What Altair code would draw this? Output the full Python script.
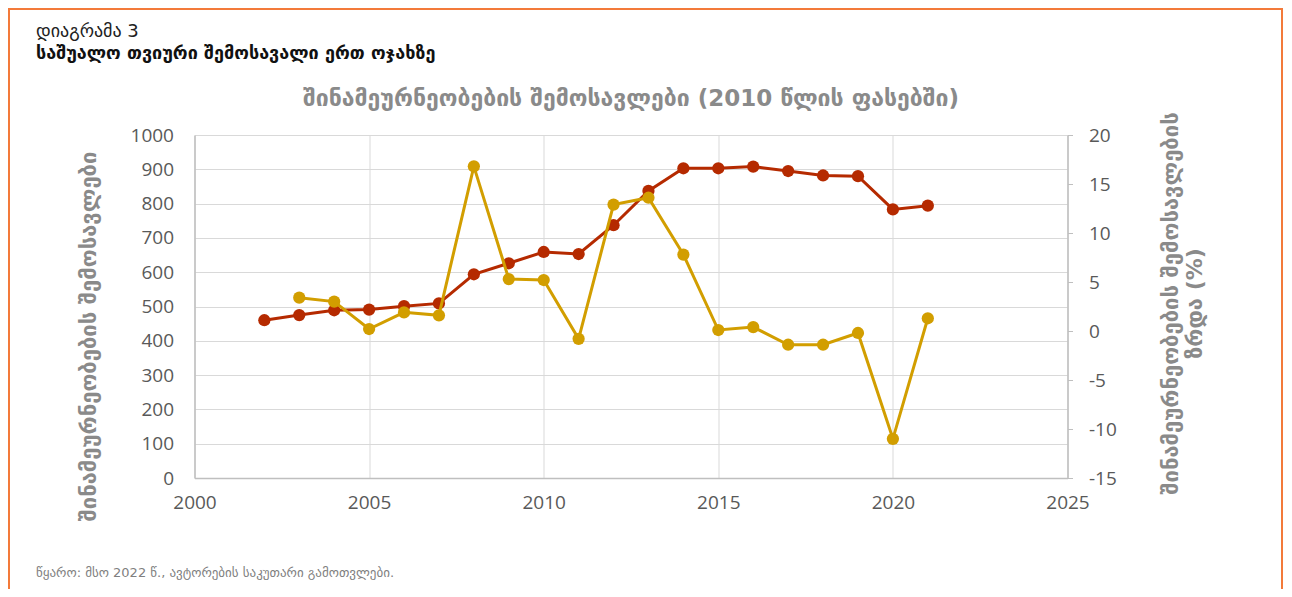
import altair as alt
import pandas as pd

# ---------------- data ----------------
income_years = list(range(2002, 2022))
income = [460, 475, 489, 491, 501, 509, 594, 626, 659, 653,
          737, 837, 903, 903, 908, 895, 882, 880, 783, 794]

growth_years = list(range(2003, 2022))
growth = [3.4, 3.0, 0.2, 1.9, 1.6, 16.8, 5.3, 5.2, -0.8, 12.9,
          13.6, 7.8, 0.1, 0.4, -1.4, -1.4, -0.2, -11.0, 1.3]

x_ticks = [2000, 2005, 2010, 2015, 2020, 2025]
left_ticks = list(range(0, 1001, 100))
right_ticks = list(range(-15, 21, 5))

header_1 = "დიაგრამა 3"
header_2 = "საშუალო თვიური შემოსავალი ერთ ოჯახზე"
chart_title = "შინამეურნეობების შემოსავლები (2010 წლის ფასებში)"
left_title = "შინამეურნეობების შემოსავლები"
right_title = ["შინამეურნეობების შემოსავლების", "ზრდა (%)"]
source_note = "წყარო: მსო 2022 წ., ავტორების საკუთარი გამოთვლები."

# ---------------- styles ----------------
RED = "#B52A00"
GOLD = "#D29E00"
ORANGE = "#F37A3A"
GRID = "#D9D9D9"
DOMAIN = "#BFBFBF"
LABEL = "#595959"
TITLE_GRAY = "#8A8A8A"
GEO = "DejaVu Sans"
NUM = "Open Sans"

W, H = 873, 343
PAD = {"left": 186.5, "top": 127, "right": 216.5, "bottom": 111}

df_inc = pd.DataFrame({"year": income_years, "income": income})
df_gr = pd.DataFrame({"year": growth_years, "growth": growth})

x_enc = alt.X(
    "year:Q",
    scale=alt.Scale(domain=[2000, 2025], nice=False, zero=False),
    axis=alt.Axis(
        values=x_ticks, format="d", title=None, grid=True, gridColor=GRID,
        ticks=False, tickSize=0, labelPadding=15, labelFlush=False,
        labelOverlap=False, domainColor=DOMAIN, domainWidth=1.5,
        labelFont=NUM, labelFontSize=19, labelColor=LABEL,
    ),
)

y_left = alt.Y(
    "income:Q",
    scale=alt.Scale(domain=[0, 1000], nice=False),
    axis=alt.Axis(
        orient="left", values=left_ticks, format="d", grid=True, gridColor=GRID,
        ticks=False, tickSize=0, labelPadding=21, labelFlush=False,
        domainColor=DOMAIN, domainWidth=1.5,
        labelFont=NUM, labelFontSize=19, labelColor=LABEL,
        title=left_title, titleAngle=-90, titleX=-106.5, titleY=201,
        titleAlign="center", titleBaseline="middle",
        titleFont=GEO, titleFontSize=22, titleFontWeight="bold",
        titleColor=TITLE_GRAY,
    ),
)

y_right = alt.Y(
    "growth:Q",
    scale=alt.Scale(domain=[-15, 20], nice=False, zero=False),
    axis=alt.Axis(
        orient="right", values=right_ticks, grid=False,
        labelExpr="'' + datum.value",
        ticks=True, tickSize=5, tickColor=DOMAIN, labelPadding=16,
        labelFlush=False, domainColor=DOMAIN, domainWidth=1.5,
        labelFont=NUM, labelFontSize=19, labelColor=LABEL,
        title=right_title, titleAngle=-90, titleX=92.5, titleY=168,
        titleAlign="center", titleBaseline="top", titleLineHeight=24,
        titleFont=GEO, titleFontSize=22, titleFontWeight="bold",
        titleColor=TITLE_GRAY,
    ),
)

red_base = alt.Chart(df_inc).encode(x=x_enc, y=y_left)
red = alt.layer(
    red_base.mark_line(color=RED, strokeWidth=3),
    red_base.mark_point(filled=True, size=150, color=RED, opacity=1),
)

gold_base = alt.Chart(df_gr).encode(x=x_enc, y=y_right)
gold = alt.layer(
    gold_base.mark_line(color=GOLD, strokeWidth=3),
    gold_base.mark_point(filled=True, size=150, color=GOLD, opacity=1),
)


def text_layer(txt, x, y, size, weight="normal", color="#222222", align="left", font=GEO):
    d = pd.DataFrame({"t": [txt]})
    return alt.Chart(d).mark_text(
        align=align, baseline="alphabetic", font=font, fontSize=size,
        fontWeight=weight, color=color,
    ).encode(text="t:N", x=alt.value(x), y=alt.value(y))


ox, oy = 194.5, 135  # page position of plot origin
t1 = text_layer(header_1, 36 - ox, 37 - oy, 18)
t2 = text_layer(header_2, 36 - ox, 59 - oy, 18, weight="bold", color="#111111")
t3 = text_layer(chart_title, W / 2, 106 - oy, 23, weight="bold", color=TITLE_GRAY, align="center")
t4 = text_layer(source_note, 36 - ox, 577 - oy, 13, color="#7F7F7F")

frame = alt.Chart(pd.DataFrame({"f": [1]})).mark_rect(
    fillOpacity=0, stroke=ORANGE, strokeWidth=2
).encode(
    x=alt.value(-185.5), x2=alt.value(1087.5),
    y=alt.value(-126), y2=alt.value(520),
)

chart = (
    alt.layer(red, gold, t1, t2, t3, t4, frame)
    .resolve_scale(y="independent")
    .properties(
        width=W, height=H,
        autosize=alt.AutoSizeParams(type="none"),
        padding=PAD,
        background="white",
    )
    .configure_view(stroke="transparent")
)

chart.save("out.html", embed_options={"renderer": "svg", "actions": False})
